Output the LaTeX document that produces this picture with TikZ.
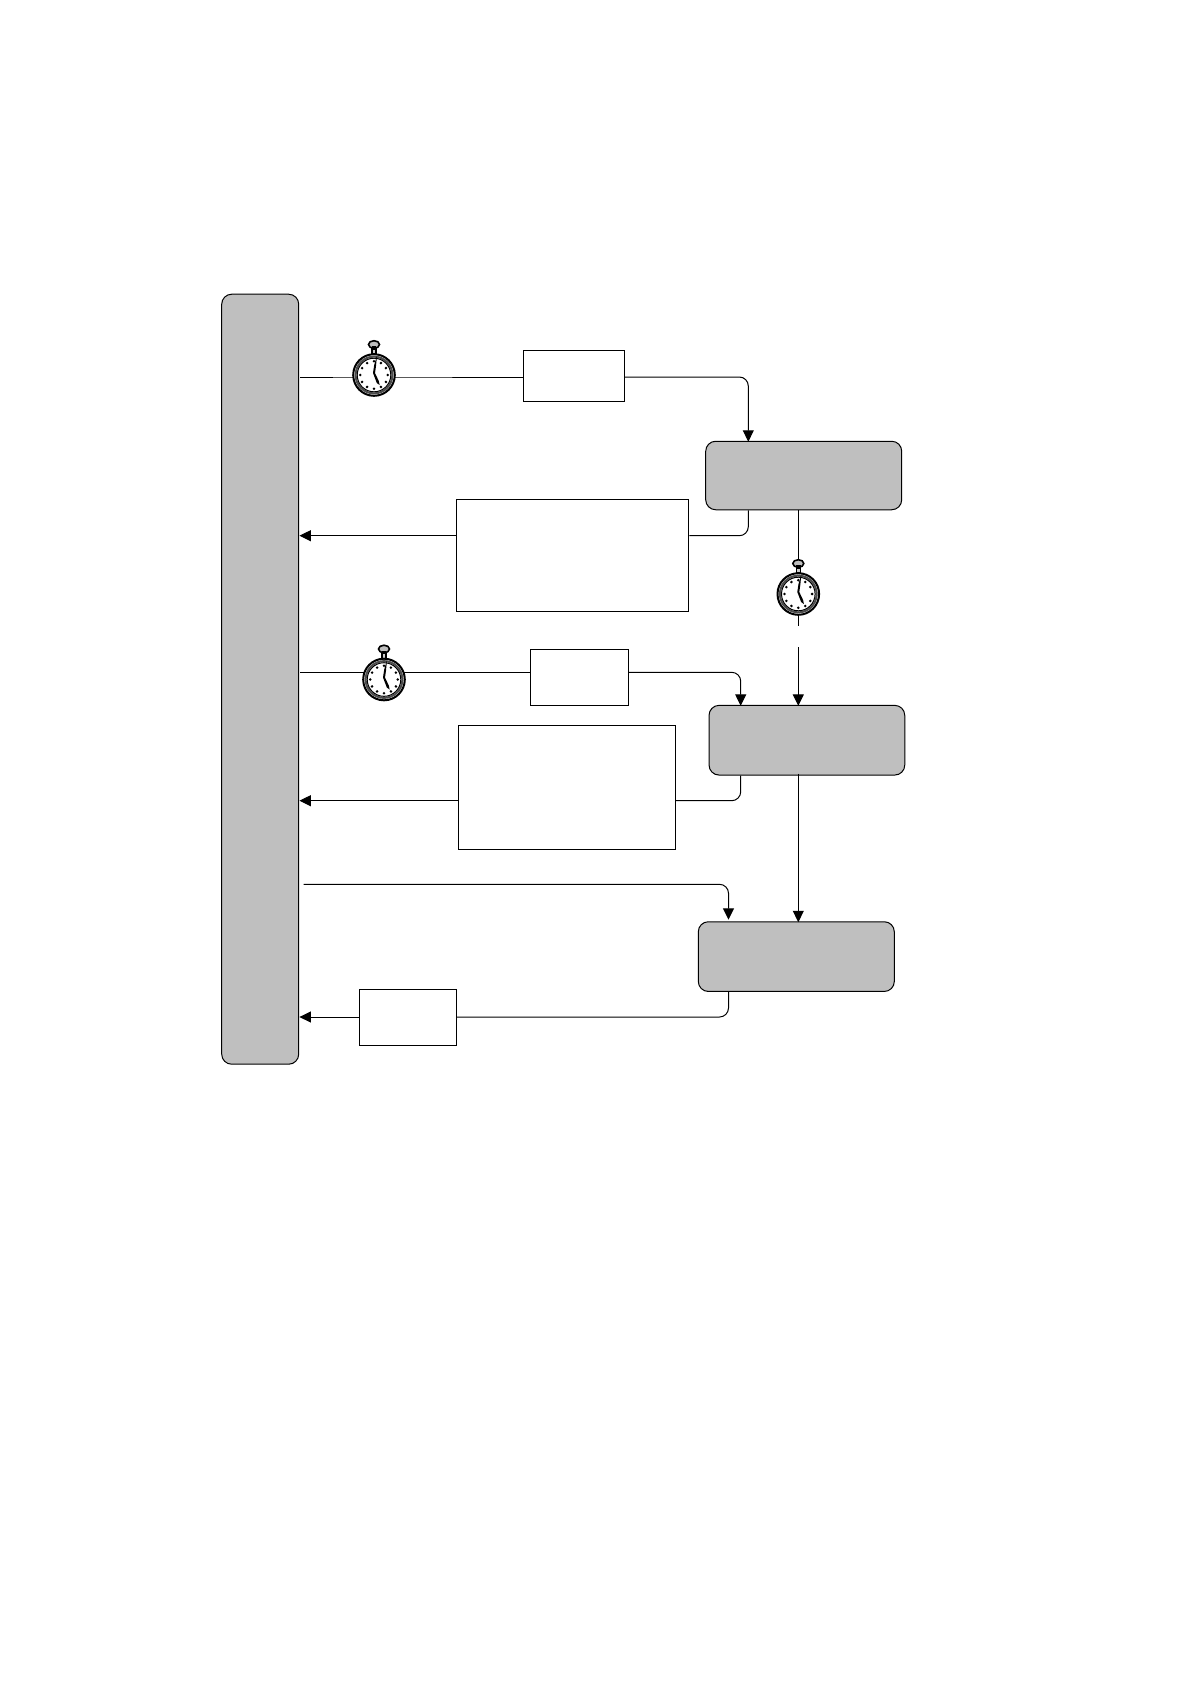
\documentclass[tikz,border=0pt]{standalone}
\usetikzlibrary{arrows.meta}
\definecolor{storegray}{HTML}{BFBFBF}
\tikzset{terminal/.style={rectangle,draw,fill=white,line width=1pt,inner sep=0pt},
  store/.style={rectangle,draw,fill=storegray,line width=1pt,rounded corners=10pt,inner sep=0pt},
  watch/.style={circle,minimum size=43pt,inner sep=0pt},
  flow/.style={line width=1pt,rounded corners=9pt},
  tip/.style={-{Triangle[length=11.5pt,width=11pt]},shorten >=-1pt},
  pics/stopwatch/.style={code={
    % crown
    \draw[line width=1.2pt,fill=gray!40] (-2,-26) rectangle (2,-21);
    \draw[line width=1.6pt,fill=gray!50] (0,-30.5) ellipse (5.5 and 3.8);
    \fill (-2.4,-29) rectangle (2.4,-25.5);
    % case and dial
    \draw[line width=2pt,fill=white] (0,0) circle (20.8);
    \draw[line width=2pt,gray!60!black] (0,0) circle (18.4);
    \draw[line width=1pt] (0,0) circle (16.8);
    \foreach \a in {30,60,...,360}
      \fill (\a:13.8) circle (1.4);
    % hands
    \fill (-1,-2) -- (.2,-10) -- (3,-19.5) -- (2,-9) -- (1,-2) -- (4.8,6) -- (5.6,10) -- (2.8,8) -- cycle;
  }}}

\begin{document}
\begin{tikzpicture}[x=1pt,y=-1pt]
  \useasboundingbox (0,0) rectangle (1190,1684);

  \node (bar)   [store,minimum width=77pt,minimum height=770pt]   at (260.2,679.2) {};
  \node (rolea) [store,minimum width=196pt,minimum height=68.5pt] at (803.7,475.5) {};
  \node (roleb) [store,minimum width=195.7pt,minimum height=69.7pt] at (806.9,740.2) {};
  \node (rolec) [store,minimum width=196pt,minimum height=69.7pt] at (796.3,956.6) {};

  \node (boxa) [terminal,minimum width=101pt,minimum height=51pt]   at (573.8,375.8) {};
  \node (boxb) [terminal,minimum width=232.5pt,minimum height=112.3pt] at (572.6,555.2) {};
  \node (boxc) [terminal,minimum width=98.4pt,minimum height=56pt]  at (579.5,677.3) {};
  \node (boxd) [terminal,minimum width=217pt,minimum height=124.3pt] at (567.2,787.2) {};
  \node (boxe) [terminal,minimum width=97pt,minimum height=55.6pt]  at (407.8,1017.5) {};

  \node (watcha) [watch] at (374,375) {};
  \node (watchb) [watch] at (798.3,594) {};
  \node (watchc) [watch] at (384,679.5) {};

  % levels of the lines and where they meet the grey boxes
  \coordinate (linea) at (0,377);
  \coordinate (lineb) at (0,535.7);
  \coordinate (linec) at (0,672.3);
  \coordinate (lined) at (0,800.7);
  \coordinate (linee) at (0,884.3);
  \coordinate (linef) at (0,1017);
  \coordinate (porta) at (748.3,0);
  \coordinate (portb) at (740.7,0);
  \coordinate (portc) at (728.5,0);
  \coordinate (gapa) at (798.3,625.7);
  \coordinate (gapb) at (798.3,647);

  \draw[flow] ([xshift=1pt]bar.east |- linea) -- (watcha.center |- linea) -- (boxa.west |- linea);
  \draw[flow,tip] (boxa.east |- linea) -- (porta |- linea) -- (porta |- rolea.north);
  \draw[flow] (porta |- rolea.south) |- (boxb.east |- lineb);
  \draw[flow,tip] (boxb.west |- lineb) -- ([xshift=1.2pt]bar.east |- lineb);

  \draw[flow] ([xshift=1pt]bar.east |- linec) -- (watchc.center |- linec) -- (boxc.west |- linec);
  \draw[flow,tip] (boxc.east |- linec) -- (portb |- linec) -- (portb |- roleb.north);
  \draw[flow] (portb |- roleb.south) |- (boxd.east |- lined);
  \draw[flow,tip] (boxd.west |- lined) -- ([xshift=1.2pt]bar.east |- lined);

  \draw[flow,tip,shorten >=1.5pt] ([xshift=4.5pt]bar.east |- linee) -- (portc |- linee) -- (portc |- rolec.north);
  \draw[flow] (portc |- rolec.south) |- (boxe.east |- linef);
  \draw[flow,tip] (boxe.west |- linef) -- ([xshift=1.2pt]bar.east |- linef);

  \draw[flow] (gapa |- rolea.south) -- (watchb.center);
  \draw[flow] (watchb.center) -- (gapa);
  \draw[flow,tip] (gapb) -- (gapb |- roleb.north);
  \draw[flow,tip] ([yshift=2pt]gapb |- roleb.south) -- (gapb |- rolec.north);

  \pic at (watcha) {stopwatch};
  \pic at (watchb) {stopwatch};
  \pic at (watchc) {stopwatch};
\end{tikzpicture}
\end{document}
